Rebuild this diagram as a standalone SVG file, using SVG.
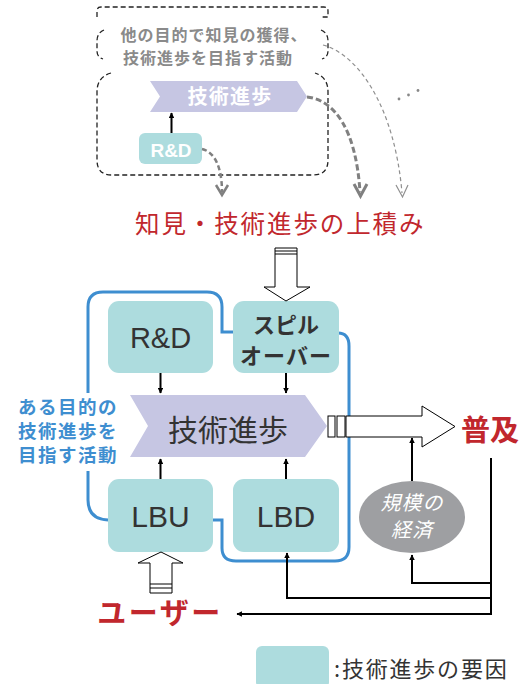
<svg xmlns="http://www.w3.org/2000/svg" width="531" height="684" viewBox="0 0 531 684">
<defs>
<style>
.jp{font-family:"Noto Sans CJK JP","Noto Sans",sans-serif}
.lat{font-family:"Liberation Sans","Noto Sans CJK JP",sans-serif}
.box{fill:#addcde}
.dash{fill:none;stroke:#222;stroke-width:1.3;stroke-dasharray:5 3}
.blk{fill:none;stroke:#000;stroke-width:2}
.blue{fill:none;stroke:#3e8ed0;stroke-width:3}
.red{fill:#c1272d}
</style>
<marker id="ah" viewBox="0 0 10 10" refX="9" refY="5" markerWidth="5.5" markerHeight="5.5" orient="auto" markerUnits="userSpaceOnUse">
<path d="M0,0 L10,5 L0,10 Z" fill="#000"/>
</marker>
</defs>
<rect width="531" height="684" fill="#fff"/>

<!-- top dashed frames -->
<g id="other-activity">
<path class="dash" d="M97,17 V11 Q97,7 101,7 H324 Q328,7 328,11 V17 H322"/>
<path class="dash" d="M104,30 Q97,33 97,41 V51 Q97,57 103,59"/>
<path class="dash" d="M321,30 Q328,33 328,41 V51 Q328,57 322,59"/>
<text class="jp" x="214" y="41" text-anchor="middle" font-size="16" font-weight="bold" fill="#8a8a8a" letter-spacing="1">他の目的で知見の獲得、</text>
<text class="jp" x="208" y="64" text-anchor="middle" font-size="16" font-weight="bold" fill="#8a8a8a" letter-spacing="1">技術進歩を目指す活動</text>
</g>
<g id="inner-activity">
<path class="dash" d="M111,73 Q97,77 97,92 V160 Q97,175 112,175 H313 Q328,175 328,160 V92 Q328,77 315,73"/>
</g>
<g id="tech-top">
<path d="M150,81 H297 L307,96.5 L297,112 H150 L160,96.5 Z" fill="#c6c6e3"/>
<text class="jp" x="230" y="104" text-anchor="middle" font-size="20" font-weight="bold" fill="#fff" letter-spacing="1.2">技術進歩</text>
</g>
<g id="rd-top">
<rect x="139" y="133" width="63" height="31" rx="6" class="box"/>
<text class="lat" x="171" y="157" text-anchor="middle" font-size="19" font-weight="bold" fill="#fff">R&amp;D</text>
</g>
<g id="dots">
<circle cx="399" cy="99" r="1.4" fill="#888"/>
<circle cx="408.5" cy="95" r="1.4" fill="#888"/>
<circle cx="418" cy="90.5" r="1.4" fill="#888"/>
</g>

<g id="knowledge">
<text class="jp red" x="135" y="233" font-size="24.5" letter-spacing="1.9">知見・技術進歩の上積み</text>
</g>

<!-- main cluster -->
<g id="activity-frame">
<path class="blue" d="M108,520 Q88,519 88,500 V307 Q88,292 103,292 H207 Q222,292 222,307 V332 H233"/>
<path class="blue" d="M213,520 H222 V548 Q222,561 236,561 H335 Q349,561 349,547 V346 Q349,333 338,333"/>
<rect x="12" y="393" width="112" height="78" fill="#fff"/>
<text class="jp" x="68" y="414" text-anchor="middle" font-size="18.5" font-weight="bold" fill="#3e8ed0" letter-spacing="1.5">ある目的の</text>
<text class="jp" x="68" y="438" text-anchor="middle" font-size="18.5" font-weight="bold" fill="#3e8ed0" letter-spacing="1.5">技術進歩を</text>
<text class="jp" x="68" y="462" text-anchor="middle" font-size="18.5" font-weight="bold" fill="#3e8ed0" letter-spacing="1.5">目指す活動</text>
</g>
<g id="rd">
<rect x="108" y="301" width="105" height="72" rx="11" class="box"/>
<text class="lat" x="160.5" y="348" text-anchor="middle" font-size="29" fill="#333">R&amp;D</text>
</g>
<g id="spillover">
<rect x="233" y="301" width="106" height="72" rx="11" class="box"/>
<text class="jp" x="286" y="333" text-anchor="middle" font-size="22" font-weight="bold" fill="#333">スピル</text>
<text class="jp" x="286" y="364" text-anchor="middle" font-size="22" font-weight="bold" fill="#333" letter-spacing="1">オーバー</text>
</g>
<g id="lbu">
<rect x="108" y="479" width="105" height="73" rx="11" class="box"/>
<text class="lat" x="160.5" y="527" text-anchor="middle" font-size="30" fill="#333">LBU</text>
</g>
<g id="lbd">
<rect x="233" y="479" width="106" height="73" rx="11" class="box"/>
<text class="lat" x="286" y="527" text-anchor="middle" font-size="30" fill="#333">LBD</text>
</g>
<g id="tech-main">
<path d="M130,395 H305 L327,426 L305,457 H130 L148,426 Z" fill="#c6c6e3"/>
<text class="jp" x="228" y="441" text-anchor="middle" font-size="30" fill="#333">技術進歩</text>
</g>
<g id="diffusion">
<text class="jp red" x="490" y="441" text-anchor="middle" font-size="29" font-weight="bold">普及</text>
</g>
<g id="scale">
<ellipse cx="412" cy="517" rx="53" ry="36" fill="#9e9fa2"/>
<text class="jp" x="412" y="510" text-anchor="middle" font-size="20" font-style="italic" fill="#fff" letter-spacing="1">規模の</text>
<text class="jp" x="412" y="537" text-anchor="middle" font-size="20" font-style="italic" fill="#fff" letter-spacing="1">経済</text>
</g>
<g id="user">
<text class="jp red" x="160" y="624" text-anchor="middle" font-size="29" font-weight="bold" letter-spacing="2.5">ユーザー</text>
</g>
<g id="legend">
<rect x="256" y="646" width="73" height="42" rx="6" class="box"/>
<text class="jp" x="334" y="677" font-size="22" fill="#333" letter-spacing="1.8">:技術進歩の要因</text>
</g>

<g id="connectors">
<path d="M202,149 C215,152 222,168 222,192" fill="none" stroke="#808080" stroke-width="2.5" stroke-dasharray="5 3"/>
<path d="M216,185 L222,195 L228,185" fill="none" stroke="#808080" stroke-width="2.5"/>
<path d="M307,97 C335,100 356,130 360,192" fill="none" stroke="#808080" stroke-width="3" stroke-dasharray="6 3"/>
<path d="M354,184 L360.5,196 L367,184" fill="none" stroke="#808080" stroke-width="3"/>
<path d="M323,45 C360,55 395,110 402,193" fill="none" stroke="#8f8f8f" stroke-width="1.2" stroke-dasharray="4 3"/>
<path d="M396,185 L402.5,197 L408,185" fill="none" stroke="#8f8f8f" stroke-width="1.2"/>
<line x1="171.5" y1="133" x2="171.5" y2="113" class="blk" stroke-width="1.5" marker-end="url(#ah)"/>
<path d="M275,248 H297 V287 H310 L286,301 L264,287 H275 Z" fill="#fff" stroke="#000" stroke-width="1"/>
<line x1="275" y1="251" x2="297" y2="251" stroke="#000" stroke-width="1"/>
<line x1="275" y1="254" x2="297" y2="254" stroke="#000" stroke-width="1"/>
<line x1="160.5" y1="373" x2="160.5" y2="393" class="blk" marker-end="url(#ah)"/>
<line x1="286" y1="373" x2="286" y2="393" class="blk" marker-end="url(#ah)"/>
<line x1="160.5" y1="479" x2="160.5" y2="459" class="blk" marker-end="url(#ah)"/>
<line x1="286" y1="479" x2="286" y2="459" class="blk" marker-end="url(#ah)"/>
<rect x="328" y="416" width="7" height="21" fill="#fff" stroke="#000" stroke-width="1"/>
<rect x="337" y="416" width="8" height="21" fill="#fff" stroke="#000" stroke-width="1"/>
<path d="M346,416 H422 V406 L455,426.5 L422,447 V437 H346 Z" fill="#fff" stroke="#000" stroke-width="1"/>
<line x1="412" y1="481" x2="412" y2="438" class="blk" marker-end="url(#ah)"/>
<polyline points="491,458 491,614 237,614" class="blk" marker-end="url(#ah)"/>
<polyline points="491,583 412,583 412,555" class="blk" marker-end="url(#ah)"/>
<polyline points="491,598 287,598 287,553" class="blk" marker-end="url(#ah)"/>
<path d="M150,593 V563 H138 L161,552 L183,563 H172 V593 Z" fill="#fff" stroke="#000" stroke-width="1"/>
<line x1="150" y1="584" x2="172" y2="584" stroke="#000" stroke-width="1"/>
<line x1="150" y1="588" x2="172" y2="588" stroke="#000" stroke-width="1"/>
</g>
</svg>
